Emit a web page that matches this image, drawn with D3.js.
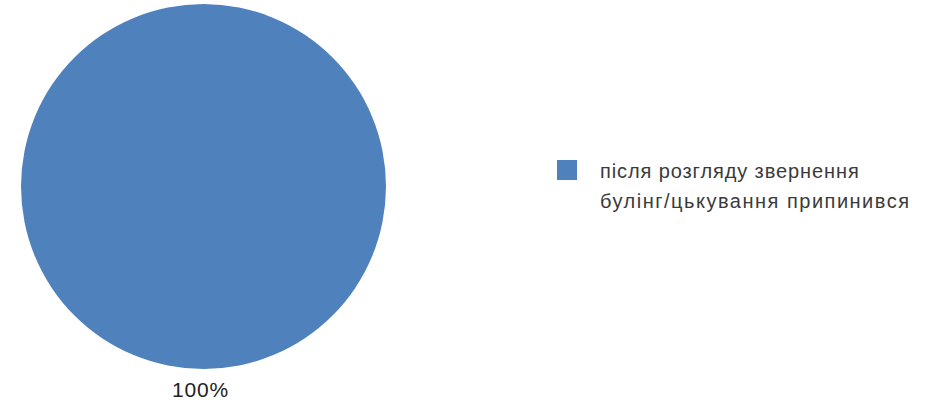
<!DOCTYPE html>
<html><head><meta charset="utf-8">
<script src="https://cdn.jsdelivr.net/npm/d3@7"></script>
<style>body{margin:0;background:#fff}svg{display:block}</style>
</head><body>
<svg id="c" width="931" height="400"></svg>
<script>
const categories = ["після розгляду звернення булінг/цькування припинився"];
const legendLines = [["після розгляду звернення", "булінг/цькування припинився"]];
const values = [100];
const colors = ["#4F81BD"];

const svg = d3.select("#c");
const cx = 203.5, cy = 186.5, r = 182.5;
const pie = d3.pie().sort(null)(values);
const arc = d3.arc().innerRadius(0).outerRadius(r);
const g = svg.append("g").attr("transform", `translate(${cx},${cy})`);
g.selectAll("path").data(pie).join("path")
  .attr("d", arc).attr("fill", (d,i) => colors[i]);

const total = d3.sum(values);
g.selectAll("text.lbl").data(pie).join("text")
  .attr("class","lbl")
  .attr("x", -3).attr("y", r + 28)
  .attr("text-anchor","middle")
  .attr("font-family","Liberation Sans, Arial, sans-serif")
  .attr("font-size", 21).attr("letter-spacing", 0.8).attr("fill","#222")
  .text(d => Math.round(d.data / total * 100) + "%");

const lineSpacing = [0.9, 1.5];
const leg = svg.append("g").attr("transform","translate(557,160)");
const items = leg.selectAll("g").data(categories).join("g");
items.append("rect").attr("width",20).attr("height",20).attr("fill",(d,i)=>colors[i]);
items.append("text")
  .attr("font-family","Liberation Sans, Arial, sans-serif")
  .attr("font-size", 20).attr("fill","#3a3a3a")
  .selectAll("tspan").data((d,i)=>legendLines[i]).join("tspan")
  .attr("x", 43).attr("y",(d,j)=>18 + j*30)
  .attr("letter-spacing",(d,j)=>lineSpacing[j]).text(d=>d);
</script>
</body></html>
